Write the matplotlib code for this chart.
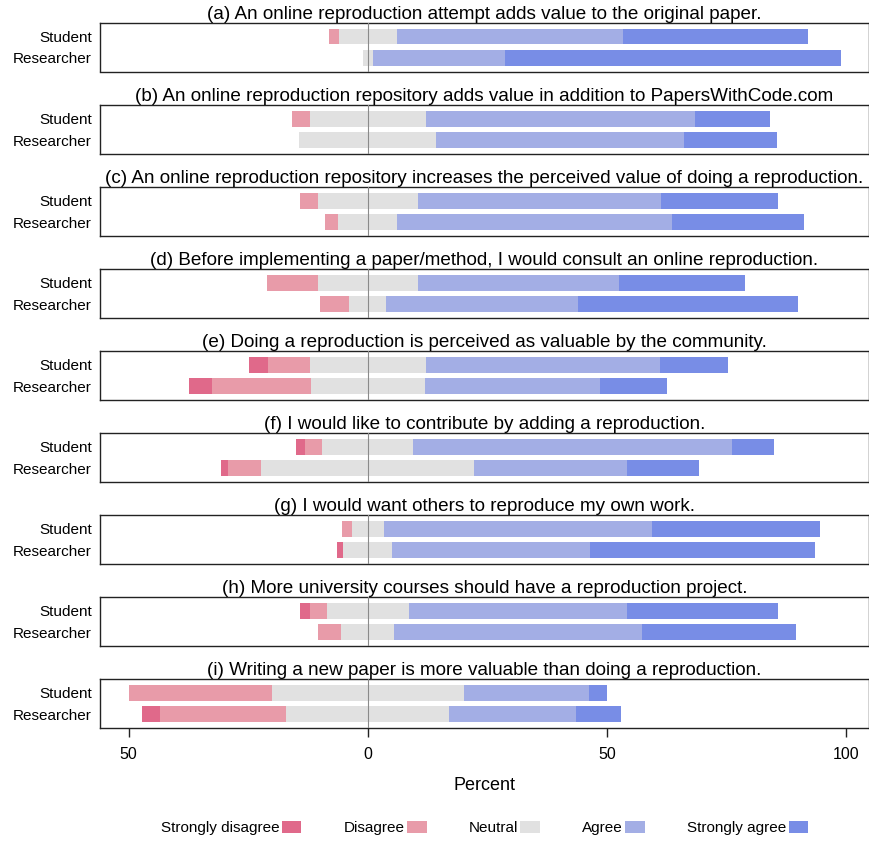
import numpy as np
import matplotlib.pyplot as plt
from matplotlib.patches import Patch
from matplotlib.ticker import FuncFormatter

plt.rcParams['font.family'] = ['Liberation Sans', 'DejaVu Sans']

titles = [
    "(a) An online reproduction attempt adds value to the original paper.",
    "(b) An online reproduction repository adds value in addition to PapersWithCode.com",
    "(c) An online reproduction repository increases the perceived value of doing a reproduction.",
    "(d) Before implementing a paper/method, I would consult an online reproduction.",
    "(e) Doing a reproduction is perceived as valuable by the community.",
    "(f) I would like to contribute by adding a reproduction.",
    "(g) I would want others to reproduce my own work.",
    "(h) More university courses should have a reproduction project.",
    "(i) Writing a new paper is more valuable than doing a reproduction.",
]
groups = ["Student", "Researcher"]
levels = ["Strongly disagree", "Disagree", "Neutral", "Agree", "Strongly agree"]
colors = ["#e0698a", "#e89ba9", "#e1e1e1", "#a3aee5", "#788de6"]

# percentages per question: [SD, D, N, A, SA]
student = [
    [0.0, 2.0, 12.1, 47.4, 38.5],
    [0.0, 3.8, 24.3, 56.2, 15.7],
    [0.0, 3.8, 20.9, 50.8, 24.5],
    [0.0, 10.7, 20.9, 42.1, 26.3],
    [3.9, 8.7, 24.3, 49.0, 14.1],
    [2.0, 3.6, 19.0, 66.6, 8.8],
    [0.0, 2.0, 6.8, 56.1, 35.1],
    [2.1, 3.5, 17.2, 45.6, 31.6],
    [0.0, 29.9, 40.1, 26.3, 3.7],
]
researcher = [
    [0.0, 0.0, 2.2, 27.6, 70.2],
    [0.0, 0.0, 28.7, 51.7, 19.6],
    [0.0, 2.7, 12.3, 57.4, 27.6],
    [0.0, 6.1, 7.7, 40.2, 46.0],
    [4.8, 20.6, 23.9, 36.7, 14.0],
    [1.5, 6.9, 44.6, 32.0, 15.0],
    [1.3, 0.0, 10.2, 41.3, 47.2],
    [0.0, 4.9, 11.1, 51.7, 32.3],
    [3.6, 26.5, 34.1, 26.4, 9.4],
]

W, H = 870, 841
fig = plt.figure(figsize=(W / 100, H / 100), dpi=100)

left_px, right_px = 100, 869
top0, pitch, box_h = 23, 82.05, 48.5

for k, title in enumerate(titles):
    top = top0 + pitch * k
    ax = fig.add_axes([left_px / W, 1 - (top + box_h) / H,
                       (right_px - left_px) / W, box_h / H])
    data = np.array([student[k], researcher[k]])
    starts = -(data[:, 0] + data[:, 1] + data[:, 2] / 2)
    ypos = np.array([1, 2])
    for j in range(5):
        ax.barh(ypos, data[:, j], left=starts, height=0.74,
                color=colors[j], edgecolor='none')
        starts = starts + data[:, j]
    ax.axvline(0, color='#8a8a8a', lw=0.8, zorder=3)
    ax.set_xlim(-56, 104.8)
    ax.set_ylim(2.63, 0.37)
    ax.set_yticks(ypos)
    ax.set_yticklabels(groups, fontsize=11)
    ax.tick_params(axis='y', length=0, pad=6)
    ax.set_title(title, fontsize=13.6, pad=1.2)
    for s in ax.spines.values():
        s.set_linewidth(1.0)
        s.set_color('#222222')
    if k < len(titles) - 1:
        ax.set_xticks([])
    else:
        ax.set_xticks([-50, 0, 50, 100])
        ax.xaxis.set_major_formatter(FuncFormatter(lambda v, p: f"{abs(int(v))}"))
        ax.tick_params(axis='x', length=6.5, width=1.0, labelsize=11.5, pad=7,
                       color='#222222')
        ax.set_xlabel("Percent", fontsize=13, labelpad=11)

handles = [Patch(facecolor=c, edgecolor='none') for c in colors]
fig.legend(handles, levels, ncol=5, loc='center', bbox_to_anchor=(0.557, 0.0155),
           frameon=False, markerfirst=False, fontsize=11,
           handlelength=1.3, handleheight=0.9, handletextpad=0.15,
           columnspacing=2.75)

fig.savefig("out.png", dpi=100)
